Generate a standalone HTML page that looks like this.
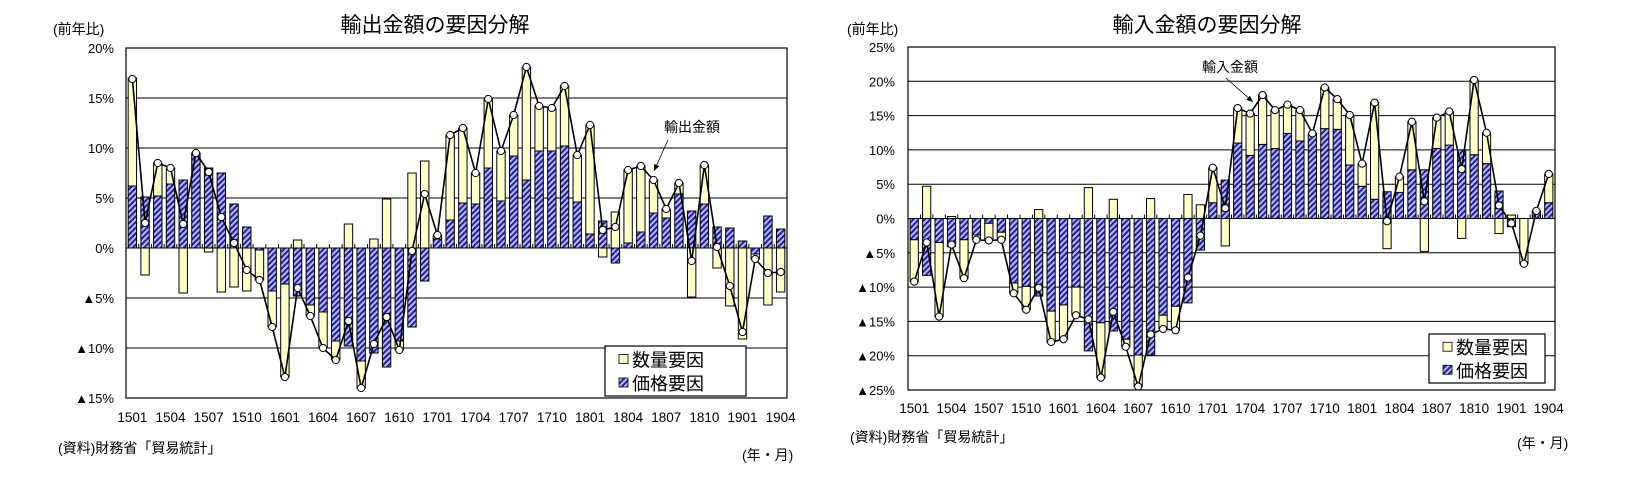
<!DOCTYPE html>
<html><head><meta charset="utf-8">
<style>
html,body{margin:0;padding:0;background:#fff;}
body{width:1644px;height:493px;overflow:hidden;font-family:"Liberation Sans","Noto Sans CJK JP",sans-serif;}
svg text{font-family:"Liberation Sans","Noto Sans CJK JP",sans-serif;fill:#000;}
</style></head>
<body>
<svg id="root" width="1644" height="493" xmlns="http://www.w3.org/2000/svg">
<defs>
<pattern id="hatch" patternUnits="userSpaceOnUse" width="4" height="4" patternTransform="rotate(45)">
<rect width="4" height="4" fill="#b8b8f0"/>
<rect width="2" height="4" fill="#22229a"/>
</pattern>
</defs>
<text x="435" y="32" font-size="21" text-anchor="middle">輸出金額の要因分解</text>
<text x="53" y="34" font-size="14">(前年比)</text>
<text x="58" y="453" font-size="14">(資料)財務省「貿易統計」</text>
<text x="742" y="460" font-size="14">(年・月)</text>
<text x="1207" y="32" font-size="21" text-anchor="middle">輸入金額の要因分解</text>
<text x="847" y="34" font-size="14">(前年比)</text>
<text x="850" y="442" font-size="14">(資料)財務省「貿易統計」</text>
<text x="1517" y="448" font-size="14">(年・月)</text>
<g id="c1"></g>
<g id="c2"></g>
</svg>
<script>
const months = [];
for (let y = 15; y <= 19; y++) for (let m = 1; m <= 12; m++) { if (y === 19 && m > 4) break; months.push(String(y) + String(m).padStart(2, '0')); }

const exportPrice = [6.2,5.1,5.2,6.4,6.8,9.3,8.0,7.5,4.4,2.1,-0.2,-4.3,-3.6,-4.8,-5.7,-6.4,-9.3,-9.8,-11.3,-10.5,-11.9,-9.3,-7.9,-3.3,0.9,2.8,4.5,4.4,8.0,4.7,9.2,6.8,9.7,9.7,10.2,4.6,1.4,2.7,-1.5,0.5,1.6,3.5,3.0,5.4,3.7,4.4,2.1,2.0,0.7,-0.6,3.2,1.9];
const exportQty = [10.8,-2.7,3.3,1.6,-4.5,0.2,-0.4,-4.4,-3.9,-4.3,-3.0,-3.6,-9.3,0.8,-1.1,-3.6,-1.9,2.4,-2.7,0.9,4.9,-0.9,7.5,8.7,0.4,8.5,7.5,3.1,6.9,5.0,4.1,11.3,4.5,4.3,6.0,4.7,10.9,-0.9,3.6,7.3,6.6,3.3,0.9,1.1,-4.9,3.9,-2.0,-5.8,-9.1,-0.5,-5.7,-4.4];
const exportTotal = [16.9,2.5,8.5,8.0,2.4,9.5,7.6,3.1,0.5,-2.2,-3.2,-7.9,-12.9,-4.0,-6.8,-10.0,-11.2,-7.3,-14.0,-9.6,-6.9,-10.2,-0.3,5.4,1.3,11.3,12.0,7.5,14.9,9.7,13.3,18.1,14.2,14.0,16.2,9.3,12.3,1.8,2.1,7.8,8.2,6.8,3.9,6.5,-1.3,8.3,0.1,-3.8,-8.4,-1.1,-2.5,-2.4];
const exportTicks = [20,15,10,5,0,-5,-10,-15];

const importPrice = [-3.1,-8.3,-3.5,-4.1,-3.1,-2.4,-0.7,-2.0,-9.4,-9.9,-11.3,-13.5,-12.6,-10.0,-19.3,-15.2,-16.4,-17.6,-19.9,-19.9,-14.1,-12.8,-12.3,-4.6,2.3,5.6,11.0,9.2,10.8,10.2,12.4,11.3,12.1,13.1,13.0,7.8,4.7,2.8,3.9,3.8,7.1,7.1,10.2,10.7,10.0,9.3,8.0,4.0,-1.2,0,1.1,2.3];
const importQty = [-6.1,4.7,-10.8,0.3,-5.6,-0.7,-2.5,-1.1,-1.5,-3.4,1.3,-4.5,-5.0,-4.1,4.5,-8.0,2.8,-1.1,-4.6,2.9,-2.0,-3.5,3.5,2.0,5.1,-4.0,5.1,6.1,7.2,5.6,4.2,4.5,0.3,6.0,4.4,7.3,3.3,14.1,-4.4,2.3,7.0,-4.8,4.5,4.9,-2.9,10.9,4.5,-2.2,0.5,-6.6,0,4.2];
const importTotal = [-9.2,-3.5,-14.3,-3.8,-8.7,-3.1,-3.2,-3.1,-10.9,-13.3,-10.1,-18.0,-17.6,-14.1,-14.7,-23.2,-13.6,-18.7,-24.5,-16.9,-16.1,-16.3,-8.6,-2.5,7.4,1.5,16.1,15.3,18.0,15.8,16.6,15.8,12.4,19.1,17.4,15.1,8.0,16.9,-0.4,6.1,14.1,2.5,14.7,15.6,7.2,20.2,12.5,1.9,-0.7,-6.6,1.1,6.5];
const importTicks = [25,20,15,10,5,0,-5,-10,-15,-20,-25];

const NS = 'http://www.w3.org/2000/svg';
function mk(parent, tag, attrs, text) {
  const e = document.createElementNS(NS, tag);
  for (const k in attrs) e.setAttribute(k, attrs[k]);
  if (text !== undefined) e.textContent = text;
  parent.appendChild(e);
  return e;
}
function fmt(v) { return v < 0 ? '▲' + (-v) + '%' : v + '%'; }

function drawChart(g, cfg, price, qty, total, ticks) {
  const n = months.length;
  const step = (cfg.right - cfg.left) / n;
  const x = i => cfg.left + step * (i + 0.5);
  const y = v => cfg.top + (cfg.max - v) / (cfg.max - cfg.min) * (cfg.bottom - cfg.top);
  const bw = step * 0.66;
  // gridlines + y labels
  ticks.forEach(t => {
    const gl = mk(g, 'line', {x1: cfg.left, x2: cfg.right, y1: y(t), y2: y(t), stroke: '#000', 'stroke-width': 1});
    
    
    const tl = mk(g, 'text', {x: cfg.labelX, y: y(t) + 5, 'font-size': 13, 'text-anchor': 'end'}, fmt(t));
    
    
  });
  // bars
  for (let i = 0; i < n; i++) {
    let pos = 0, neg = 0;
    [[price[i], 'url(#hatch)', 'price-bar'], [qty[i], '#ffffcc', 'quantity-bar']].forEach(([v, fill, nm]) => {
      if (!v) return;
      let y0, y1;
      if (v > 0) { y0 = y(pos + v); y1 = y(pos); pos += v; } else { y0 = y(neg); y1 = y(neg + v); neg += v; }
      const r = mk(g, 'rect', {x: x(i) - bw / 2, y: y0, width: bw, height: Math.max(0.5, y1 - y0), fill: fill, stroke: '#000', 'stroke-width': 1});
      
      
    });
  }
  // category ticks on zero line
  for (let i = 0; i <= n; i++) {
    const tk = mk(g, 'line', {x1: cfg.left + step * i, x2: cfg.left + step * i, y1: y(0), y2: y(0) - 4, stroke: '#000', 'stroke-width': 1});
    
    
  }
  // x labels
  for (let i = 0; i < n; i += 3) {
    const xl = mk(g, 'text', {x: x(i), y: cfg.xLabelY, 'font-size': 13.5, 'text-anchor': 'middle'}, months[i]);
    
    
  }
  // total line
  const pts = total.map((v, i) => x(i).toFixed(1) + ',' + y(v).toFixed(1)).join(' ');
  const pl = mk(g, 'polyline', {points: pts, fill: 'none', stroke: '#000', 'stroke-width': 1.6});
  
  
  total.forEach((v, i) => {
    const c = mk(g, 'circle', {cx: x(i), cy: y(v), r: 3.6, fill: '#fff', stroke: '#000', 'stroke-width': 1});
    
    
  });
  // plot border
  const b = mk(g, 'rect', {x: cfg.left, y: cfg.top, width: cfg.right - cfg.left, height: cfg.bottom - cfg.top, fill: 'none', stroke: '#000', 'stroke-width': 1.2});
  
  
  // legend
  const L = cfg.legend;
  const lg = mk(g, 'g', {});
  
  
  mk(lg, 'rect', {x: L.x, y: L.y, width: L.w, height: L.h, fill: '#fff', stroke: '#000', 'stroke-width': 1.2});
  [['#ffffcc', '数量要因', 'legend-entry-quantity'], ['url(#hatch)', '価格要因', 'legend-entry-price']].forEach(([f, t, nm], k) => {
    const eg = mk(lg, 'g', {});
    
    
    const cy = L.y + L.h * (k === 0 ? 0.27 : 0.74);
    mk(eg, 'rect', {x: L.x + 14, y: cy - 5, width: 9, height: 9, fill: f, stroke: '#000', 'stroke-width': 0.8});
    mk(eg, 'text', {x: L.x + 27, y: cy + 7, 'font-size': 18}, t);
  });
  // annotation
  const A = cfg.ann;
  const at = mk(g, 'text', {x: A.tx, y: A.ty, 'font-size': 14, 'text-anchor': 'middle'}, A.text);
  
  
  const al = mk(g, 'line', {x1: A.x1, y1: A.y1, x2: A.x2, y2: A.y2, stroke: '#000', 'stroke-width': 0.8});
  
  
  const ang = Math.atan2(A.y2 - A.y1, A.x2 - A.x1);
  const hp = [[A.x2, A.y2], [A.x2 - 7 * Math.cos(ang - 0.4), A.y2 - 7 * Math.sin(ang - 0.4)], [A.x2 - 7 * Math.cos(ang + 0.4), A.y2 - 7 * Math.sin(ang + 0.4)]];
  const ah = mk(g, 'polygon', {points: hp.map(p => p.join(',')).join(' '), fill: '#000'});
  
  
}

drawChart(document.getElementById('c1'), {
  left: 126, right: 787, top: 48, bottom: 398, max: 20, min: -15, labelX: 114, xLabelY: 422,
  legend: {x: 605, y: 346, w: 141, h: 50},
  ann: {text: '輸出金額', tx: 692, ty: 132, x1: 668, y1: 140, x2: 654, y2: 171}
}, exportPrice, exportQty, exportTotal, exportTicks);

drawChart(document.getElementById('c2'), {
  left: 908, right: 1555, top: 47, bottom: 390, max: 25, min: -25, labelX: 895, xLabelY: 413,
  legend: {x: 1429, y: 334, w: 116, h: 49},
  ann: {text: '輸入金額', tx: 1230, ty: 72, x1: 1226, y1: 78, x2: 1253, y2: 102}
}, importPrice, importQty, importTotal, importTicks);
</script>
</body></html>
